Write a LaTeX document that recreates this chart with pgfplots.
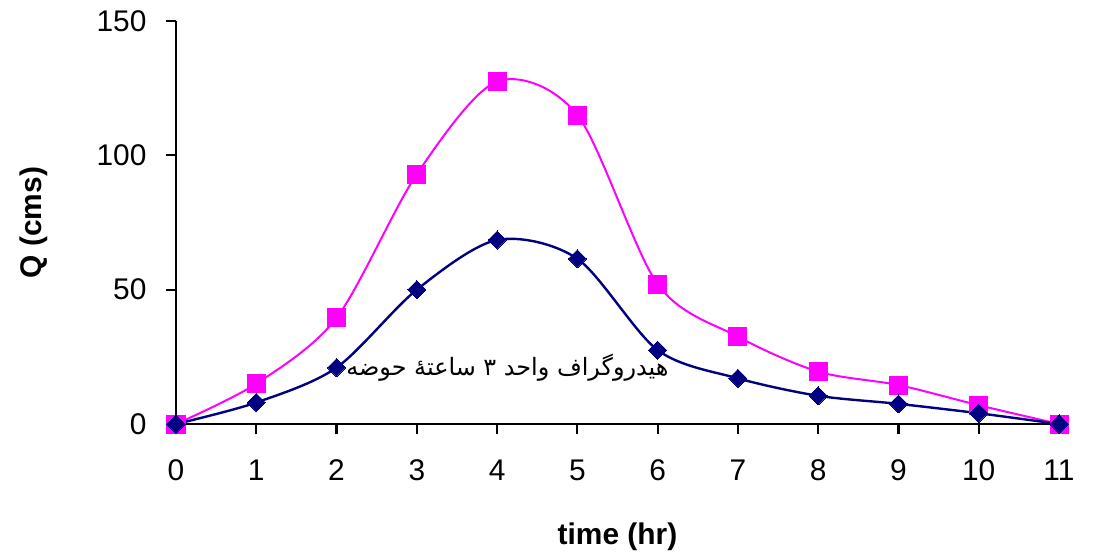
\documentclass[border=0pt]{standalone}
\usepackage{pgfplots}
\pgfplotsset{compat=1.18}
\usepackage{fontspec}
\setmainfont{Liberation Sans}
\newfontfamily\arabicfont[Script=Arabic]{DejaVu Sans}
\TeXXeTstate=1
\definecolor{pinkline}{RGB}{255,0,255}
\definecolor{navyline}{RGB}{0,0,128}
\begin{document}
\begin{tikzpicture}
\path[use as bounding box] (0,0) rectangle (1093bp,-558bp);
\begin{axis}[
  at={(176bp,-424bp)}, anchor=south west,
  scale only axis, width=883bp, height=403bp,
  xmin=0, xmax=11, ymin=0, ymax=150,
  xtick={0,1,...,11}, ytick={0,50,100,150},
  axis x line=bottom, axis y line=left,
  axis line style={-, line width=2.2bp, black},
  tick style={line width=2.2bp, black},
  tick align=outside, major tick length=10bp,
  ticklabel style={font=\fontsize{30}{36}\selectfont},
  xticklabel style={yshift=-22bp},
  yticklabel style={xshift=-16bp},
  /pgf/number format/assume math mode=true,
  xlabel={time (hr)}, ylabel={Q (cms)},
  label style={font=\fontsize{30}{36}\selectfont\bfseries},
  xlabel style={at={([yshift=-113bp]axis description cs:0.5,0)}, anchor=center},
  ylabel style={at={([xshift=-142bp]axis description cs:0,0.5)}, anchor=center},
  clip=false,
]
\addplot[pinkline, line width=2bp, smooth, mark=square*, mark size=9bp, mark options={solid, fill=pinkline, draw=pinkline, line width=0pt}]
  coordinates {(0,0)(1,15)(2,39.5)(3,93)(4,127.5)(5,115)(6,52)(7,32.5)(8,19.5)(9,14.5)(10,7)(11,0)};
\addplot[navyline, line width=2.4bp, smooth, mark=square*, mark size=6.4bp, mark options={solid, rotate=45, fill=navyline, draw=navyline, line width=0pt}]
  coordinates {(0,0)(1,8)(2,21)(3,50)(4,68.5)(5,61.5)(6,27.5)(7,17)(8,10.5)(9,7.5)(10,4)(11,0)};
\node[anchor=west, inner sep=0pt, font=\arabicfont\fontsize{24}{28}\selectfont] at (axis cs:2.12,20.8) {\beginR هیدروگراف واحد ۳ ساعتهٔ حوضه\endR};
\end{axis}
\end{tikzpicture}
\end{document}
